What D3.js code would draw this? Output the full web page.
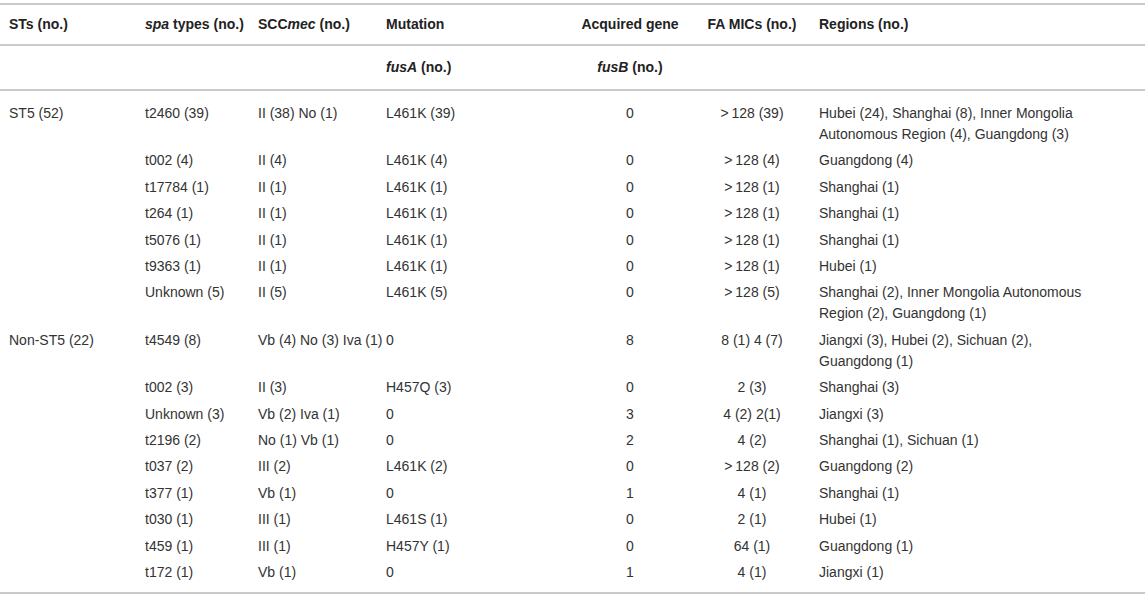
<!DOCTYPE html>
<html>
<head>
<meta charset="utf-8">
<script src="https://cdn.jsdelivr.net/npm/d3@7"></script>
<style>
  html, body { margin: 0; padding: 0; background: #fff; }
  svg text { font-family: "Liberation Sans", Arial, Helvetica, sans-serif; font-size: 14px; fill: #333; }
  svg text.head { font-weight: bold; fill: #222; }
</style>
</head>
<body>
<div id="chart"></div>
<script>
var WIDTH = 1145,
    HEIGHT = 598;

// table content, one entry per row
var stGroups = ["ST5 (52)", "", "", "", "", "", "", "Non-ST5 (22)", "", "", "", "", "", "", "", ""];
var spaTypes = ["t2460 (39)", "t002 (4)", "t17784 (1)", "t264 (1)", "t5076 (1)", "t9363 (1)", "Unknown (5)",
                "t4549 (8)", "t002 (3)", "Unknown (3)", "t2196 (2)", "t037 (2)", "t377 (1)", "t030 (1)", "t459 (1)", "t172 (1)"];
var sccmec = ["II (38) No (1)", "II (4)", "II (1)", "II (1)", "II (1)", "II (1)", "II (5)",
              "Vb (4) No (3) Iva (1)", "II (3)", "Vb (2) Iva (1)", "No (1) Vb (1)", "III (2)", "Vb (1)", "III (1)", "III (1)", "Vb (1)"];
var fusA = ["L461K (39)", "L461K (4)", "L461K (1)", "L461K (1)", "L461K (1)", "L461K (1)", "L461K (5)",
            "0", "H457Q (3)", "0", "0", "L461K (2)", "0", "L461S (1)", "H457Y (1)", "0"];
var fusB = ["0", "0", "0", "0", "0", "0", "0", "8", "0", "3", "2", "0", "1", "0", "0", "1"];
var faMics = [">\u2009128 (39)", ">\u2009128 (4)", ">\u2009128 (1)", ">\u2009128 (1)", ">\u2009128 (1)", ">\u2009128 (1)", ">\u2009128 (5)",
              "8 (1) 4 (7)", "2 (3)", "4 (2) 2(1)", "4 (2)", ">\u2009128 (2)", "4 (1)", "2 (1)", "64 (1)", "4 (1)"];
var regions = [
  ["Hubei (24), Shanghai (8), Inner Mongolia", "Autonomous Region (4), Guangdong (3)"],
  ["Guangdong (4)"], ["Shanghai (1)"], ["Shanghai (1)"], ["Shanghai (1)"], ["Hubei (1)"],
  ["Shanghai (2), Inner Mongolia Autonomous", "Region (2), Guangdong (1)"],
  ["Jiangxi (3), Hubei (2), Sichuan (2),", "Guangdong (1)"],
  ["Shanghai (3)"], ["Jiangxi (3)"], ["Shanghai (1), Sichuan (1)"], ["Guangdong (2)"],
  ["Shanghai (1)"], ["Hubei (1)"], ["Guangdong (1)"], ["Jiangxi (1)"]
];

// header pieces: [text, italic?]
var headers = [
  {col: "st", parts: [["STs (no.)", false]]},
  {col: "spa", parts: [["spa", true], [" types (no.)", false]]},
  {col: "scc", parts: [["SCC", false], ["mec", true], [" (no.)", false]]},
  {col: "fusA", parts: [["Mutation", false]]},
  {col: "fusB", parts: [["Acquired gene", false]]},
  {col: "mic", parts: [["FA MICs (no.)", false]]},
  {col: "reg", parts: [["Regions (no.)", false]]}
];
var subHeaders = [
  {col: "fusA", parts: [["fusA", true], [" (no.)", false]]},
  {col: "fusB", parts: [["fusB", true], [" (no.)", false]]}
];

var cols = ["st", "spa", "scc", "fusA", "fusB", "mic", "reg"];
var colX = d3.scaleOrdinal().domain(cols).range([9, 145, 258, 386, 630, 752, 819]);
var colAnchor = d3.scaleOrdinal().domain(cols).range(["start", "start", "start", "start", "middle", "middle", "start"]);

var ROW_PITCH = 26.4,
    LINE_H = 21,
    FIRST_ROW = 113;

var rows = spaTypes.map(function(d, i) {
  return {st: stGroups[i], spa: d, scc: sccmec[i], fusA: fusA[i], fusB: fusB[i], mic: faMics[i], reg: regions[i]};
});

// cumulative row offsets (wrapped region cells push the next row down)
var offset = 0;
rows.forEach(function(r) {
  r.y = FIRST_ROW + offset;
  offset += ROW_PITCH + (r.reg.length - 1) * LINE_H;
});

var svg = d3.select("#chart").append("svg")
  .attr("width", WIDTH)
  .attr("height", HEIGHT);

// rules
var rules = [4, 45, 90, 593];
svg.selectAll("line.rule").data(rules).enter().append("line")
  .attr("class", "rule")
  .attr("x1", 0).attr("x2", WIDTH)
  .attr("y1", function(d) { return d; }).attr("y2", function(d) { return d; })
  .attr("stroke", "#b8b8b8")
  .attr("stroke-width", 1.5);

function drawHeader(list, y) {
  var t = svg.selectAll(null).data(list).enter().append("text")
    .attr("class", "head")
    .attr("x", function(d) { return colX(d.col); })
    .attr("y", y)
    .attr("dominant-baseline", "central")
    .attr("text-anchor", function(d) { return colAnchor(d.col); });
  t.selectAll("tspan").data(function(d) { return d.parts; }).enter().append("tspan")
    .attr("font-style", function(p) { return p[1] ? "italic" : "normal"; })
    .text(function(p) { return p[0]; });
}
drawHeader(headers, 24);
drawHeader(subHeaders, 67);

// body cells
var rowG = svg.selectAll("g.row").data(rows).enter().append("g")
  .attr("class", "row")
  .attr("transform", function(d) { return "translate(0," + d.y + ")"; });

["st", "spa", "scc", "fusA", "fusB", "mic"].forEach(function(c) {
  rowG.append("text")
    .attr("x", colX(c))
    .attr("dominant-baseline", "central")
    .attr("text-anchor", colAnchor(c))
    .text(function(d) { return d[c]; });
});

rowG.selectAll("text.reg").data(function(d) { return d.reg; }).enter().append("text")
  .attr("class", "reg")
  .attr("x", colX("reg"))
  .attr("y", function(d, i) { return i * LINE_H; })
  .attr("dominant-baseline", "central")
  .text(function(d) { return d; });
</script>
</body>
</html>
